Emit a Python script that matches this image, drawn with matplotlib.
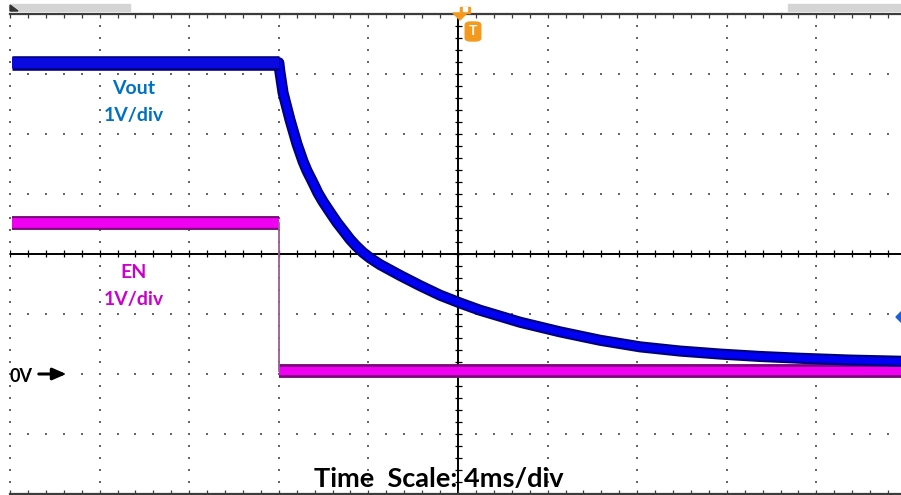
import matplotlib
import numpy as np

matplotlib.use("Agg")

import matplotlib.pyplot as plt
import matplotlib.patheffects as pe
from matplotlib.patches import Polygon, Rectangle, FancyBboxPatch

plt.rcParams["font.family"] = ["Lato", "DejaVu Sans"]

W, H = 901, 495

# Trace readings off the scope capture: time in ms, level in V (0V marker = ground)
vout_t = [-19.9, -8.0, -7.95, -7.81, -7.50, -7.19, -6.92, -6.74, -6.47, -6.25,
          -6.03, -5.71, -5.40, -5.13, -4.82, -4.55, -4.24, -3.93, -3.48, -2.59,
          -1.70, -0.80, 0.09, 0.98, 1.88, 2.77, 3.66, 4.55, 6.34, 8.13, 9.91,
          11.70, 13.48, 15.27, 17.50, 19.80]
vout_v = [5.18, 5.18, 5.03, 4.68, 4.23, 3.83, 3.54, 3.38, 3.18, 3.01,
          2.87, 2.69, 2.52, 2.39, 2.24, 2.13, 2.02, 1.93, 1.82, 1.64,
          1.47, 1.31, 1.18, 1.06, 0.96, 0.86, 0.78, 0.70, 0.56, 0.45, 0.38,
          0.33, 0.29, 0.26, 0.23, 0.21]
en_high_t = [-19.9, -8.0]
en_high_v = [2.51, 2.51]
en_low_t = [-8.0, 19.8]
en_low_v = [0.04, 0.04]

TIME_DIV = 4.0   # ms/div
VOLT_DIV = 1.0   # V/div
X_LEFT = -20.0
Y_BOT, Y_TOP = -2.0, 6.0
PX_PER_MS = 22.4
PX_PER_V = 60.06


def fx(px):
    return px / W


def fy(py):
    return 1 - py / H


fig = plt.figure(figsize=(W / 100, H / 100), dpi=100)
ax = fig.add_axes([fx(10), fy(494), (W - 10) / W, (494 - 13.5) / H])
ax.set_xlim(X_LEFT, X_LEFT + (W - 10) / PX_PER_MS)
ax.set_ylim(Y_BOT, Y_TOP)
ax.axis("off")

# graticule
major_x = np.arange(-20, 20.1, TIME_DIV)
major_y = np.arange(Y_BOT, Y_TOP + 0.01, VOLT_DIV)
minor_x = np.arange(-20, 20.01, TIME_DIV / 5)
minor_y = np.arange(Y_BOT, Y_TOP + 0.01, VOLT_DIV / 5)
dot = dict(s=2.0, marker="s", color="#666666", linewidths=0, clip_on=False, zorder=1)
for xm in major_x:
    if abs(xm) > 1e-9:
        ax.scatter(np.full(len(minor_y), xm), minor_y, **dot)
for ym in major_y:
    if ym not in (Y_BOT, Y_TOP, 2.0):
        ax.scatter(minor_x, np.full(len(minor_x), ym), **dot)

# center cross with minor ticks
ax.axhline(2.0, color="black", lw=1.4, zorder=2)
ax.axvline(0.0, color="black", lw=1.4, zorder=2)
tk = 3.5 / PX_PER_V
ax.vlines(minor_x, 2.0 - tk, 2.0 + tk, color="black", lw=0.9, zorder=2)
tkx = 3.5 / PX_PER_MS
ax.hlines(minor_y, -tkx, tkx, color="black", lw=0.9, zorder=2)

# top / bottom borders with ticks
ax.axhline(Y_TOP, color="#3c3c3c", lw=1.6, clip_on=False, zorder=2)
ax.axhline(Y_BOT, color="#3c3c3c", lw=1.6, clip_on=False, zorder=2)
ax.vlines(minor_x, Y_TOP - 4 / PX_PER_V, Y_TOP, color="#3c3c3c", lw=0.9, clip_on=False)
ax.vlines(minor_x, Y_BOT, Y_BOT + 4 / PX_PER_V, color="#3c3c3c", lw=0.9, clip_on=False)

# traces
line_kw = dict(solid_joinstyle="round", solid_capstyle="butt")
ax.plot(vout_t, vout_v, color="#0000f2", lw=5, zorder=4, **line_kw,
        path_effects=[pe.Stroke(linewidth=8, foreground="#00007a"), pe.Normal()])
ax.plot(vout_t[:2], vout_v[:2], color="#0a0ae0", lw=7.5, zorder=4, **line_kw,
        path_effects=[pe.Stroke(linewidth=10.5, foreground="#00007a"), pe.Normal()])

mag_fx = [pe.Stroke(linewidth=10, foreground="#7a0a7a"), pe.Normal()]
ax.plot(en_high_t, en_high_v, color="#f000f0", lw=7, path_effects=mag_fx, zorder=3, **line_kw)
ax.plot(en_low_t, en_low_v, color="#f000f0", lw=6, path_effects=mag_fx, zorder=3, **line_kw)
ax.plot([en_high_t[-1], en_low_t[0]], [en_high_v[-1], en_low_v[0]],
        color="#9a5c9a", lw=1.3, zorder=3)

# header bars
fig.patches.append(Rectangle((fx(10), fy(11)), fx(120), 7 / H, transform=fig.transFigure,
                             color="#d4d4d4", zorder=0))
fig.patches.append(Rectangle((fx(788), fy(11)), fx(113), 7 / H, transform=fig.transFigure,
                             color="#d4d4d4", zorder=0))
fig.patches.append(Polygon([(fx(10), fy(5)), (fx(18), fy(11)), (fx(10), fy(11))],
                           closed=True, transform=fig.transFigure, color="#333333"))

# trigger markers
fig.patches.append(Polygon([(fx(453), fy(13)), (fx(467), fy(13)), (fx(460), fy(20))],
                           closed=True, transform=fig.transFigure, color="#f39a1e", zorder=5))
fig.patches.append(Rectangle((fx(460), fy(13)), 10 / W, 6 / H, transform=fig.transFigure,
                             color="#f39a1e", zorder=5))
fig.patches.append(Rectangle((fx(463), fy(11)), 4 / W, 4 / H, transform=fig.transFigure,
                             color="white", zorder=6))
fig.patches.append(FancyBboxPatch((fx(467), fy(40)), 12 / W, 17 / H,
                                  boxstyle="round,pad=0.002,rounding_size=0.006",
                                  transform=fig.transFigure, color="#f39a1e", zorder=5))
fig.text(fx(473), fy(31), "T", color="white", fontsize=10, fontweight="bold",
         ha="center", va="center", zorder=6)
fig.patches.append(Polygon([(fx(896), fy(317)), (fx(902), fy(311)), (fx(908), fy(317)),
                            (fx(902), fy(323))], closed=True, transform=fig.transFigure,
                           color="#1a5fe0", zorder=5))

# labels
lab = dict(ha="center", va="center", fontweight="bold", fontsize=14)
fig.text(fx(134), fy(89), "Vout", color="#0070c0", **lab)
fig.text(fx(134), fy(116), "1V/div", color="#0070c0", **lab)
fig.text(fx(134), fy(272), "EN", color="#cc00cc", **lab)
fig.text(fx(134), fy(299), "1V/div", color="#cc00cc", **lab)
fig.text(fx(21), fy(376), "0V", color="black", ha="center", va="center",
         fontweight="bold", fontsize=13)
ax.annotate("", xy=(fx(69), fy(374)), xytext=(fx(36), fy(374)),
            xycoords="figure fraction", textcoords="figure fraction",
            arrowprops=dict(arrowstyle="-|>,head_length=0.8,head_width=0.35",
                            color="black", lw=2.2))
fig.text(fx(439), fy(479), "Time  Scale: 4ms/div", color="black", ha="center",
         va="center", fontweight="bold", fontsize=19.5)

fig.savefig("out.png", dpi=100)
